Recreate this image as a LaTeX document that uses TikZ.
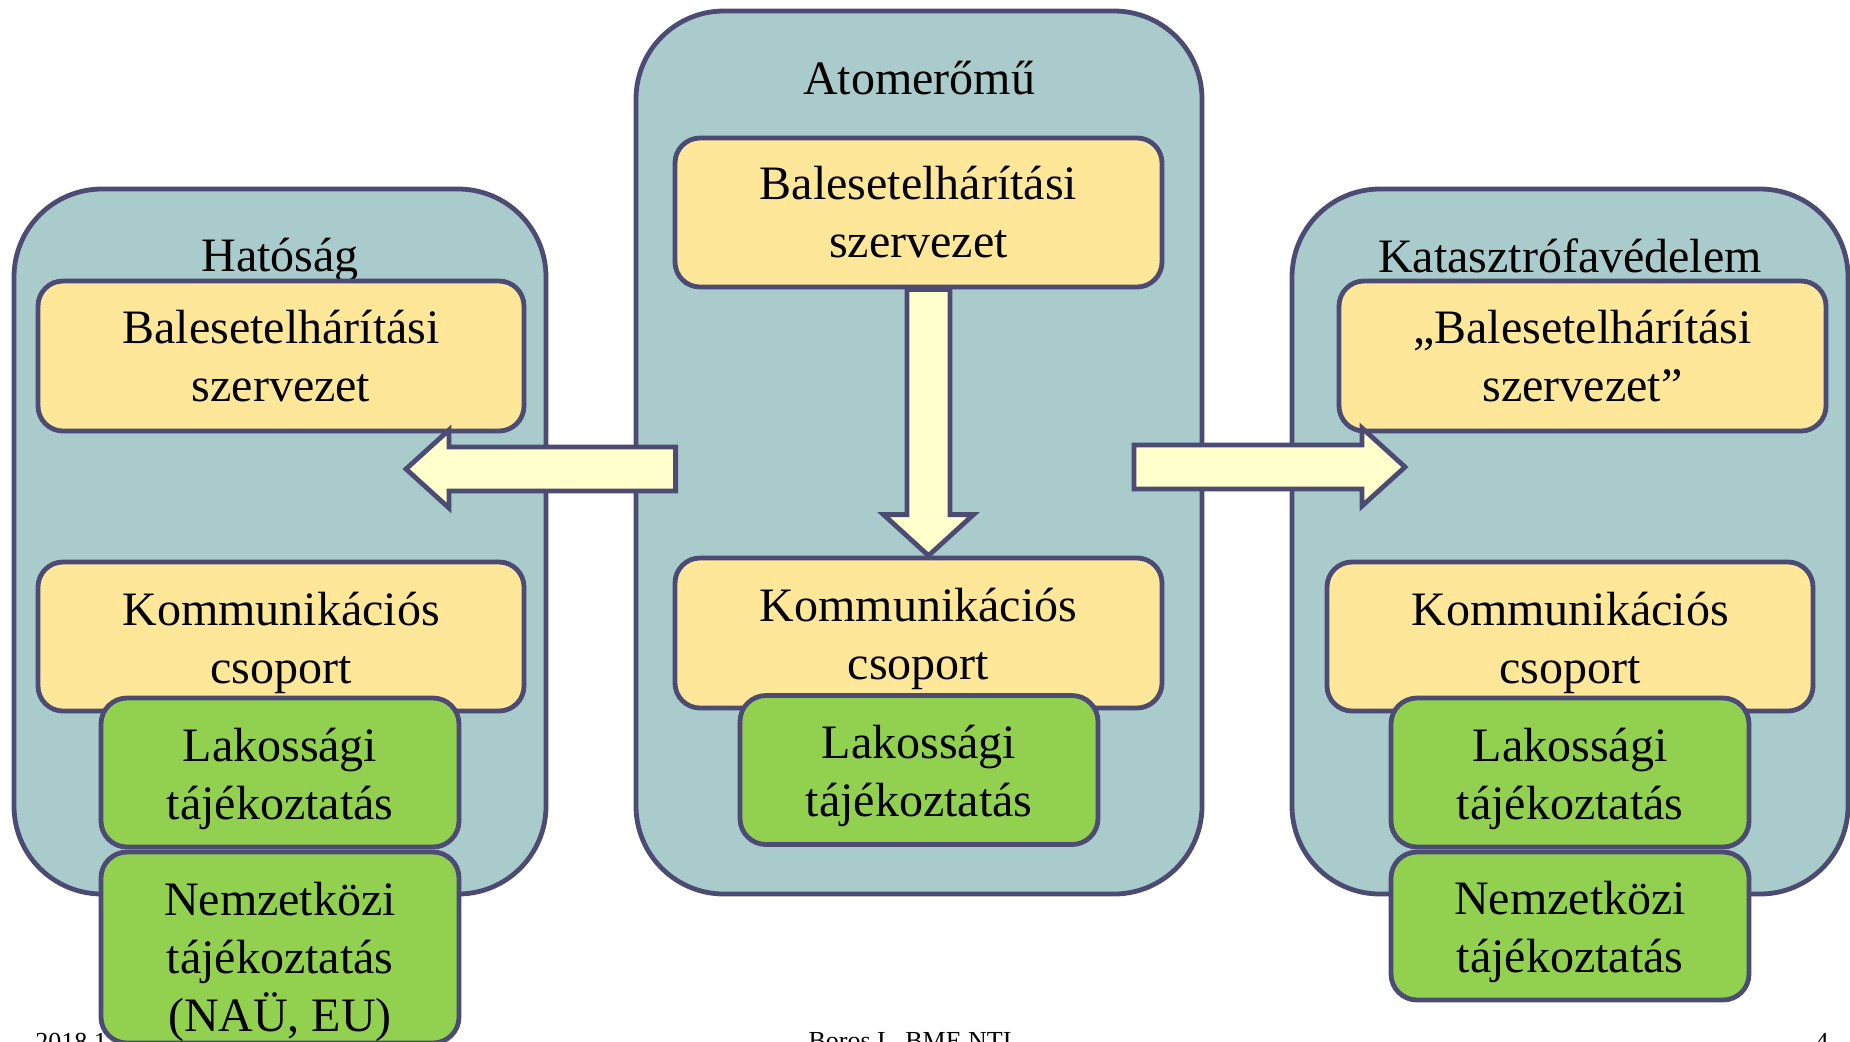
\documentclass[tikz,border=0pt]{standalone}
\usepackage{fontspec}
\setmainfont{Liberation Serif}
\usetikzlibrary{calc}
\definecolor{frame}{RGB}{75,75,115}
\definecolor{orgfill}{RGB}{170,203,203}
\definecolor{unitfill}{RGB}{255,231,153}
\definecolor{infofill}{RGB}{146,208,80}
\definecolor{flowfill}{RGB}{255,255,204}
\newcommand\bigtext{\fontsize{24pt}{29pt}\selectfont}
% two centred lines, set a little lower without changing the box size
\newcommand\dn[1]{\raisebox{-3pt}[\height][\depth]{\begin{tabular}{@{}c@{}}#1\end{tabular}}}
\begin{document}
\begin{tikzpicture}[x=0.5pt,y=-0.5pt,
  sz/.style 2 args={minimum width=#1*0.5pt, minimum height=#2*0.5pt},
  org/.style={draw=frame, line width=2.4pt, fill=orgfill, rounded corners=44pt, inner sep=0pt},
  unit/.style={draw=frame, line width=2.4pt, fill=unitfill, rounded corners=12.5pt, inner sep=0pt, align=center, font=\bigtext},
  info/.style={draw=frame, line width=2.4pt, fill=infofill, rounded corners=13pt, inner sep=0pt, align=center, font=\bigtext},
  title/.style={anchor=base, inner sep=0pt, font=\bigtext},
  flow/.style={draw=frame, line width=2.4pt, fill=flowfill, line join=miter},
  foot/.style={anchor=base, inner sep=0pt, font=\fontsize{13pt}{15pt}\selectfont}]

\path[use as bounding box] (0,0) rectangle (1850,1041);
\clip (0,0) rectangle (1850,1041);
\fill[white] (0,0) rectangle (1850,1041);

% footer line
\node[foot, anchor=base west] (date) at (35,1050) {2018.1};
\node[foot] (author) at (910,1049) {Boros I., BME NTI};
\node[foot] (page) at (1822,1050) {4};

% organisations
\node[org, sz={532}{705}] (hat) at (280,541.5) {};
\node[org, sz={566}{883}] (atom) at (919,452.5) {};
\node[org, sz={556}{705}] (kat) at (1570,541.5) {};

\node[title] (hatT) at (280,271) {Hatóság};
\node[title] (atomT) at (919,94) {Atomerőmű};
\node[title] (katT) at (1570,272) {Katasztrófavédelem};

% emergency organisations and communication groups
\node[unit, sz={486}{150}] (bhat) at (281,356) {Balesetelhárítási\\szervezet};
\node[unit, sz={487}{149}] (bcen) at (918.5,212.5) {Balesetelhárítási\\szervezet};
\node[unit, sz={487}{150}] (bkat) at (1582.5,356) {„Balesetelhárítási\\szervezet”};
\node[unit, sz={486}{149}] (khat) at (281,636.5) {\dn{Kommunikációs\\csoport}};
\node[unit, sz={487}{150}] (kcen) at (918.5,633) {\dn{Kommunikációs\\csoport}};
\node[unit, sz={486}{149}] (kkat) at (1570,636.5) {\dn{Kommunikációs\\csoport}};

% information tasks
\node[info, sz={358}{149}] (lhat) at (280,772.5) {\dn{Lakossági\\tájékoztatás}};
\node[info, sz={358}{149}] (lcen) at (919,770) {\dn{Lakossági\\tájékoztatás}};
\node[info, sz={358}{149}] (lkat) at (1570,772.5) {\dn{Lakossági\\tájékoztatás}};
\node[info, sz={358}{191}] (nhat) at (280,947.5) {};
\node[inner sep=0pt, align=center, font=\bigtext] (nhatT) at (280,962) {Nemzetközi\\tájékoztatás\\(NAÜ, EU)};
\node[info, sz={358}{148}] (nkat) at (1570,926) {\dn{Nemzetközi\\tájékoztatás}};

% block arrows
\coordinate (leftaxis) at (0,469);
\coordinate (ltail) at ($(bcen.west |- leftaxis)+(3,0)$);
\coordinate (ltip) at (406,469);
\draw[flow] let \p1=(ltail), \p2=(ltip) in
  (\x1,\y1+11pt) -- (\x2+21.5pt,\y1+11pt) -- (\x2+21.5pt,\y2+19.5pt) -- (\p2)
  -- (\x2+21.5pt,\y2-19.5pt) -- (\x2+21.5pt,\y1-11pt) -- (\x1,\y1-11pt) -- cycle;

\coordinate (rtail) at (1134,467);
\coordinate (rtip) at (1405,467);
\draw[flow] let \p1=(rtail), \p2=(rtip) in
  (\x1,\y1+11pt) -- (\x2-21.5pt,\y1+11pt) -- (\x2-21.5pt,\y2+19.5pt) -- (\p2)
  -- (\x2-21.5pt,\y2-19.5pt) -- (\x2-21.5pt,\y1-11pt) -- (\x1,\y1-11pt) -- cycle;

\coordinate (dtail) at ($(bcen.south)+(10,0)$);
\coordinate (dtip) at ($(kcen.north)+(10,0)$);
\draw[flow] let \p1=(dtail), \p2=(dtip) in
  (\x1-10.75pt,\y1) -- (\x1-10.75pt,\y2+20.5pt) -- (\x2-22.5pt,\y2+20.5pt) -- (\p2)
  -- (\x2+22.5pt,\y2+20.5pt) -- (\x1+10.75pt,\y2+20.5pt) -- (\x1+10.75pt,\y1) -- cycle;
\end{tikzpicture}
\end{document}
